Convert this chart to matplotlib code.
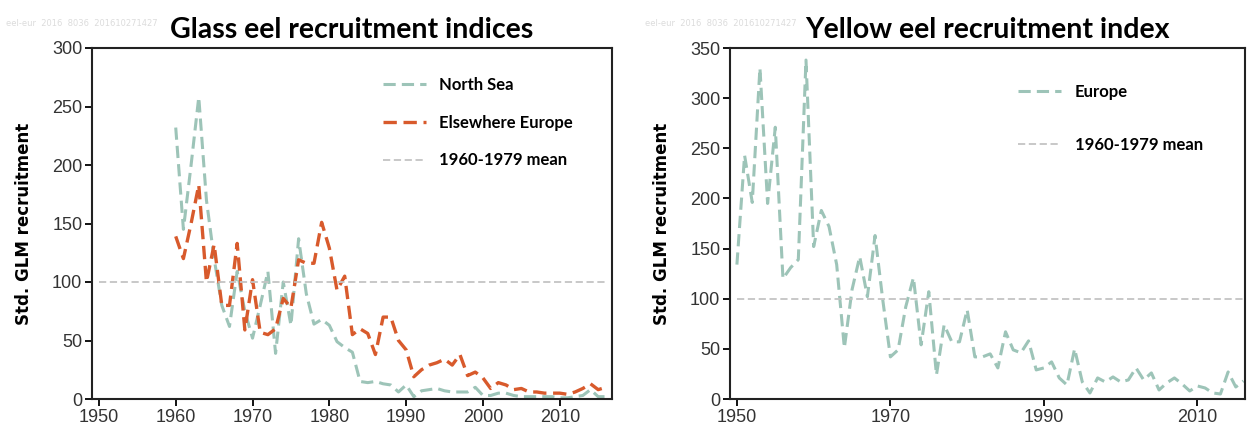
import matplotlib.pyplot as plt
from matplotlib import font_manager

# glass eel recruitment, North Sea and elsewhere Europe (1960-2016)
glass_years = list(range(1960, 2017))
north_sea = [232, 145, 200, 258, 170, 120, 80, 62, 109, 75, 52, 80, 109, 39, 100, 63,
             137, 90, 64, 68, 63, 49, 44, 40, 15, 14, 15, 13, 12, 6, 12, 2,
             7, 8, 9, 7, 6, 6, 6, 10, 3, 3, 5, 5, 3, 2, 2, 2,
             2, 2, 1, 1, 2, 3, 8, 2, 2]
elsewhere = [139, 120, 150, 183, 100, 132, 80, 80, 133, 59, 102, 57, 55, 60, 86, 78,
             119, 116, 116, 151, 129, 93, 105, 55, 60, 56, 38, 70, 70, 50, 42, 19,
             25, 29, 31, 34, 29, 38, 20, 23, 18, 9, 14, 12, 8, 9, 6, 6,
             5, 5, 5, 4, 6, 9, 13, 8, 10]

# yellow eel recruitment, Europe (1950-2016)
yellow_years = list(range(1950, 2017))
europe = [134, 243, 196, 330, 195, 271, 120, 131, 139, 338, 152, 188, 172, 134, 51, 109,
          142, 102, 163, 99, 42, 49, 92, 121, 54, 107, 24, 74, 57, 57, 89, 42,
          42, 45, 31, 67, 49, 46, 58, 29, 31, 37, 21, 14, 50, 17, 6, 21,
          17, 22, 17, 19, 31, 19, 26, 9, 16, 21, 15, 8, 13, 11, 6, 5,
          27, 12, 18]

mean_value = 100
mean_span = [1950, 2016]

teal = '#9dc4b8'
orange = '#d85a2c'
grey = '#c4c4c4'

names = {f.name for f in font_manager.fontManager.ttflist}
tick_font = 'Liberation Sans Narrow' if 'Liberation Sans Narrow' in names else 'Liberation Sans'

fig = plt.figure(figsize=(12.52, 4.37), dpi=100)
ax1 = fig.add_axes([92 / 1252, 38 / 437, 520 / 1252, 351 / 437])
ax2 = fig.add_axes([730 / 1252, 38 / 437, 515 / 1252, 351 / 437])

ax1.plot(glass_years, north_sea, color=teal, lw=2.2, dashes=(4, 2), label='North Sea')
ax1.plot(glass_years, elsewhere, color=orange, lw=2.4, dashes=(4, 2), label='Elsewhere Europe')
ax1.plot(mean_span, [mean_value] * 2, color=grey, lw=1.3, dashes=(4, 2), label='1960-1979 mean')

ax2.plot(yellow_years, europe, color=teal, lw=2.2, dashes=(4, 2), label='Europe')
ax2.plot(mean_span, [mean_value] * 2, color=grey, lw=1.3, dashes=(4, 2), label='1960-1979 mean')

ax1.set_xlim(1949.1, 2016.8)
ax1.set_ylim(0, 300)
ax1.set_xticks(range(1950, 2011, 10))
ax1.set_yticks(range(0, 301, 50))

ax2.set_xlim(1949.1, 2016.2)
ax2.set_ylim(0, 350)
ax2.set_xticks([1950, 1970, 1990, 2010])
ax2.set_yticks(range(0, 351, 50))

titles = ['Glass eel recruitment indices', 'Yellow eel recruitment index']
for ax, t in zip([ax1, ax2], titles):
    for s in ax.spines.values():
        s.set_linewidth(1.5)
        s.set_color('#222222')
    ax.tick_params(direction='out', length=5, width=1.3, labelsize=13, pad=2)
    for lab in ax.get_xticklabels() + ax.get_yticklabels():
        lab.set_family(tick_font)
        lab.set_color('#333333')
    ax.set_ylabel('Std. GLM recruitment', fontsize=12, fontweight='bold', family='DejaVu Sans', labelpad=14)
    ax.set_title(t, fontsize=20.5, fontweight='bold', family='Lato', pad=7)
    # faint stamp behind the title
    ax.text(-0.165, 1.07, 'eel-eur  2016  8036  201610271427', transform=ax.transAxes,
            fontsize=6, color='#dcdcdc', ha='left', va='center', zorder=0)

ax1.legend(loc='upper left', bbox_to_anchor=(0.53, 0.96), frameon=False, handlelength=2.6,
           labelspacing=1.3, prop={'family': 'Lato', 'weight': 'bold', 'size': 12})
ax2.legend(loc='upper left', bbox_to_anchor=(0.53, 0.94), frameon=False, handlelength=2.6,
           labelspacing=2.2, prop={'family': 'Lato', 'weight': 'bold', 'size': 12})

fig.savefig('out.png', dpi=100)
